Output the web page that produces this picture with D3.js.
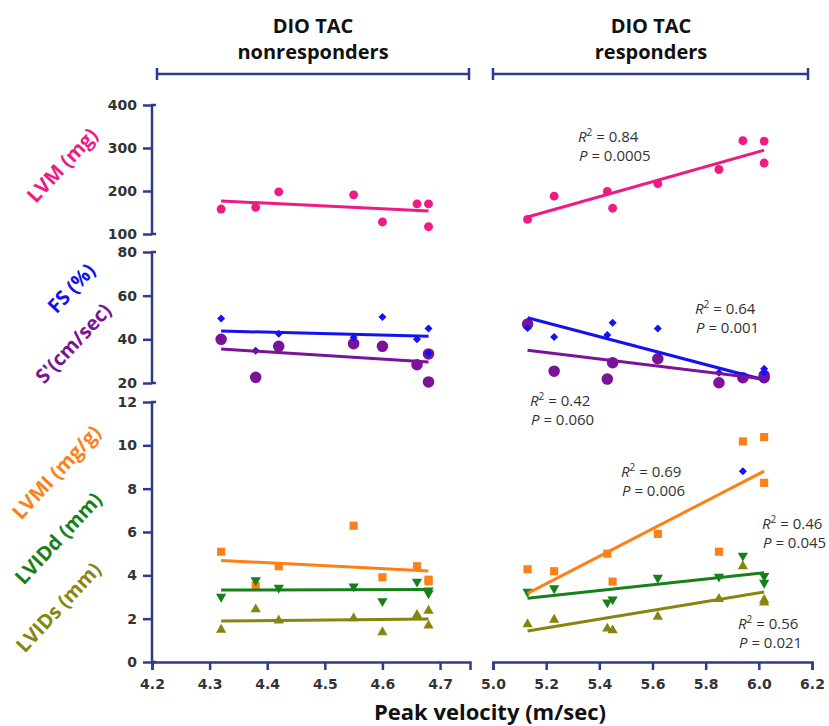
<!DOCTYPE html>
<html>
<head>
<meta charset="utf-8">
<script src="https://cdn.jsdelivr.net/npm/d3@7"></script>
<style>
  html, body { margin: 0; padding: 0; background: #fff; }
  svg { display: block; }
</style>
</head>
<body>
<svg id="chart" width="829" height="726"></svg>
<script>
// ---------------- DATA ----------------
const groupTitles = [["DIO TAC", "nonresponders"], ["DIO TAC", "responders"]];
const xTicksLeft = [4.2, 4.3, 4.4, 4.5, 4.6, 4.7];
const xTicksRight = [5.0, 5.2, 5.4, 5.6, 5.8, 6.0, 6.2];
const yTicksLVM = [100, 200, 300, 400];
const yTicksFS = [20, 40, 60, 80];
const yTicksBottom = [0, 2, 4, 6, 8, 10, 12];
const xTitle = "Peak velocity (m/sec)";

// peak velocity of each animal
const xLeft = [4.32, 4.38, 4.42, 4.55, 4.60, 4.66, 4.68, 4.68];
const xRight = [5.13, 5.23, 5.43, 5.45, 5.62, 5.85, 5.94, 6.02, 6.02];

// LVM (mg)
const lvmLeft = [158, 162, 198, 191, 128, 170, 170, 117];
const lvmRight = [134, 188, 199, 160, 217, 250, 317, 316, 265];
// FS (%)
const fsLeft = [49.5, 34.8, 42.6, 40.8, 50.2, 40.0, 45.0, 33.6];
const fsRight = [45.2, 41.1, 42.0, 47.6, 45.0, 24.7, null, 26.5, 24.7];
// S' (cm/sec)
const sLeft = [40.0, 22.6, 36.8, 38.0, 36.8, 28.4, 33.3, 20.5];
const sRight = [47.0, 25.4, 21.8, 29.3, 31.1, 20.1, 22.4, 22.4, 23.5];
// LVMI (mg/g)
const lvmiLeft = [5.09, 3.52, 4.42, 6.29, 3.91, 4.42, 3.80, 3.72];
const lvmiRight = [4.28, 4.19, 5.00, 3.71, 5.91, 5.09, 10.18, 10.38, 8.27];
// LVIDd (mm)
const lviddLeft = [3.01, 3.77, 3.43, 3.49, 2.81, 3.71, 3.17, 3.30];
const lviddRight = [3.24, 3.40, 2.75, 2.89, 3.89, 3.94, 4.91, 3.97, 3.66];
// LVIDs (mm)
const lvidsLeft = [1.49, 2.43, 1.92, 2.02, 1.37, 2.17, 2.37, 1.68];
const lvidsRight = [1.74, 1.95, 1.54, 1.46, 2.09, 2.91, 4.42, 2.86, 2.74];
// stray FS diamond drawn in the lower right panel (as in the original figure)
const strayFS = [{x: 5.94, y: 8.80}];

// linear fits: [x start, x end], [y start, y end]
const fitX = { left: [4.32, 4.68], right: [5.13, 6.02] };
const fitLVM = { left: [176.7, 153.5], right: [139.5, 295.0] };
const fitFS = { left: [43.8, 41.4], right: [49.9, 21.4] };
const fitS = { left: [35.6, 29.6], right: [35.0, 21.8] };
const fitLVMI = { left: [4.69, 4.20], right: [3.17, 8.81] };
const fitLVIDd = { left: [3.32, 3.35], right: [2.94, 4.12] };
const fitLVIDs = { left: [1.89, 1.98], right: [1.43, 3.23] };

// statistics text
const stats = [
  {r2: "0.84", p: "0.0005"},
  {r2: "0.64", p: "0.001"},
  {r2: "0.42", p: "0.060"},
  {r2: "0.69", p: "0.006"},
  {r2: "0.46", p: "0.045"},
  {r2: "0.56", p: "0.021"}
];

const yLabels = [
  {text: "LVM (mg)", color: "pink"},
  {text: "FS (%)", color: "blue"},
  {text: "S'(cm/sec)", color: "purple"},
  {text: "LVMI (mg/g)", color: "orange"},
  {text: "LVIDd (mm)", color: "green"},
  {text: "LVIDs (mm)", color: "olive"}
];

// ---------------- STYLE / LAYOUT ----------------
const C = {
  pink: "#ee1a85", blue: "#1212f2", purple: "#7a1397",
  orange: "#fd7f17", green: "#17801a", olive: "#86860f",
  axis: "#2f3b88", text: "#333333"
};
const tickFont = "'DejaVu Sans', sans-serif";
const labelFont = "'Open Sans', 'DejaVu Sans', sans-serif";

const svg = d3.select("#chart");

const xL = d3.scaleLinear().domain([4.2, 4.752]).range([152, 470]);
const xR = d3.scaleLinear().domain([5.0, 6.2]).range([493, 812]);
const yLVM = d3.scaleLinear().domain([100, 400]).range([234, 105]);
const yFS = d3.scaleLinear().domain([20, 80]).range([383, 252]);
const yBot = d3.scaleLinear().domain([0, 12]).range([662, 402]);

// ---------------- HEADERS ----------------
const headerCenters = [313, 651];
const bracketEnds = [[157, 469], [493, 808]];
groupTitles.forEach((t, i) => {
  const g = svg.append("g");
  g.append("text").attr("x", headerCenters[i]).attr("y", 33)
    .attr("text-anchor", "middle").attr("font-family", labelFont)
    .attr("font-weight", 700).attr("font-size", 20).attr("fill", "#111").text(t[0]);
  g.append("text").attr("x", headerCenters[i]).attr("y", 59)
    .attr("text-anchor", "middle").attr("font-family", labelFont)
    .attr("font-weight", 700).attr("font-size", 20).attr("fill", "#111").text(t[1]);
  const [a, b] = bracketEnds[i];
  g.append("line").attr("x1", a).attr("x2", b).attr("y1", 74).attr("y2", 74)
    .attr("stroke", C.axis).attr("stroke-width", 2.5);
  [a, b].forEach(x => g.append("line").attr("x1", x).attr("x2", x)
    .attr("y1", 68).attr("y2", 80).attr("stroke", C.axis).attr("stroke-width", 2.5));
});

// ---------------- Y AXES ----------------
function yAxis(scale, ticks) {
  const g = svg.append("g").attr("transform", "translate(152,0)");
  g.call(d3.axisLeft(scale).tickValues(ticks).tickSize(9).tickPadding(6).tickSizeOuter(0));
  g.select(".domain").remove();
  g.selectAll(".tick line").attr("stroke", C.axis).attr("stroke-width", 2.5);
  g.selectAll(".tick text").attr("font-family", tickFont).attr("font-weight", "bold")
    .attr("font-size", 14).attr("fill", C.text);
  const [r0, r1] = scale.range();
  g.append("line").attr("x1", 0).attr("x2", 0).attr("y1", r0).attr("y2", r1)
    .attr("stroke", C.axis).attr("stroke-width", 2.5);
  [r0, r1].forEach(y => g.append("line").attr("x1", -1).attr("x2", 4)
    .attr("y1", y).attr("y2", y).attr("stroke", C.axis).attr("stroke-width", 2.5));
}
yAxis(yLVM, yTicksLVM);
yAxis(yFS, yTicksFS);
yAxis(yBot, yTicksBottom);

// ---------------- X AXES ----------------
function xAxis(scale, ticks) {
  const g = svg.append("g").attr("transform", "translate(0,662)");
  g.call(d3.axisBottom(scale).tickValues(ticks).tickSize(8).tickPadding(9)
    .tickSizeOuter(8).tickFormat(d3.format(".1f")));
  g.select(".domain").attr("stroke", C.axis).attr("stroke-width", 2.5);
  g.selectAll(".tick line").attr("stroke", C.axis).attr("stroke-width", 2.5);
  g.selectAll(".tick text").attr("font-family", tickFont).attr("font-weight", "bold")
    .attr("font-size", 14).attr("fill", C.text);
}
xAxis(xL, xTicksLeft);
xAxis(xR, xTicksRight);

svg.append("text").attr("x", 490).attr("y", 720).attr("text-anchor", "middle")
  .attr("font-family", labelFont).attr("font-weight", 700).attr("font-size", 22)
  .attr("fill", "#111").text(xTitle);

// ---------------- Y LABELS ----------------
const yLabelPos = [[62, 165], [71, 288], [73, 343], [56, 472], [58, 538], [58, 607]];
yLabels.forEach((l, i) => {
  const [x, y] = yLabelPos[i];
  svg.append("text").attr("transform", `translate(${x},${y}) rotate(-47)`)
    .attr("text-anchor", "middle").attr("dominant-baseline", "central")
    .attr("font-family", labelFont).attr("font-weight", 700).attr("font-size", 20)
    .attr("fill", C[l.color]).text(l.text);
});

// ---------------- MARKS ----------------
const sym = {
  circle: d3.symbol().type(d3.symbolCircle).size(62),
  bigCircle: d3.symbol().type(d3.symbolCircle).size(105),
  diamond: d3.symbol().type(d3.symbolSquare).size(32),
  square: d3.symbol().type(d3.symbolSquare).size(66),
  tri: d3.symbol().type(d3.symbolTriangle).size(46)
};

function points(xs, ys, xs_, ys_, color, shape) {
  const g = svg.append("g");
  const data = xs.map((x, i) => ({x, y: ys[i]})).filter(d => d.y != null);
  const path = shape === "triDown" || shape === "triUp" ? sym.tri() : sym[shape]();
  const r = shape === "triDown" ? 180 : shape === "diamond" ? 45 : 0;
  g.selectAll("path").data(data).join("path")
    .attr("d", path)
    .attr("transform", d => `translate(${xs_(d.x)},${ys_(d.y)}) rotate(${r})`)
    .attr("fill", color);
}
function fit(xscale, yscale, fx, fy, color) {
  svg.append("path")
    .datum(fx.map((x, i) => [x, fy[i]]))
    .attr("d", d3.line().x(d => xscale(d[0])).y(d => yscale(d[1])))
    .attr("stroke", color).attr("stroke-width", 3).attr("fill", "none");
}

// top panel
points(xLeft, lvmLeft, xL, yLVM, C.pink, "circle");
points(xRight, lvmRight, xR, yLVM, C.pink, "circle");
fit(xL, yLVM, fitX.left, fitLVM.left, C.pink);
fit(xR, yLVM, fitX.right, fitLVM.right, C.pink);

// middle panel
points(xLeft, sLeft, xL, yFS, C.purple, "bigCircle");
points(xRight, sRight, xR, yFS, C.purple, "bigCircle");
points(xLeft, fsLeft, xL, yFS, C.blue, "diamond");
points(xRight, fsRight, xR, yFS, C.blue, "diamond");
fit(xL, yFS, fitX.left, fitFS.left, C.blue);
fit(xR, yFS, fitX.right, fitFS.right, C.blue);
fit(xL, yFS, fitX.left, fitS.left, C.purple);
fit(xR, yFS, fitX.right, fitS.right, C.purple);

// bottom panel
points(xLeft, lvmiLeft, xL, yBot, C.orange, "square");
points(xRight, lvmiRight, xR, yBot, C.orange, "square");
points(xLeft, lviddLeft, xL, yBot, C.green, "triDown");
points(xRight, lviddRight, xR, yBot, C.green, "triDown");
points(xLeft, lvidsLeft, xL, yBot, C.olive, "triUp");
points(xRight, lvidsRight, xR, yBot, C.olive, "triUp");
points(strayFS.map(d => d.x), strayFS.map(d => d.y), xR, yBot, C.blue, "diamond");
fit(xL, yBot, fitX.left, fitLVMI.left, C.orange);
fit(xR, yBot, fitX.right, fitLVMI.right, C.orange);
fit(xL, yBot, fitX.left, fitLVIDd.left, C.green);
fit(xR, yBot, fitX.right, fitLVIDd.right, C.green);
fit(xL, yBot, fitX.left, fitLVIDs.left, C.olive);
fit(xR, yBot, fitX.right, fitLVIDs.right, C.olive);

// ---------------- STATS ANNOTATIONS ----------------
const statPos = [[578, 142], [695, 314], [530, 406], [621, 477], [762, 529], [738, 629]];
stats.forEach((s, i) => {
  const [x, y] = statPos[i];
  const g = svg.append("g").attr("font-family", labelFont).attr("font-size", 15)
    .attr("fill", C.text);
  const t1 = g.append("text").attr("x", x).attr("y", y);
  t1.append("tspan").attr("font-style", "italic").text("R");
  t1.append("tspan").attr("dy", -6).attr("font-size", 10).text("2");
  t1.append("tspan").attr("dy", 6).text(" = " + s.r2);
  const t2 = g.append("text").attr("x", x + 1).attr("y", y + 19);
  t2.append("tspan").attr("font-style", "italic").text("P");
  t2.append("tspan").text(" = " + s.p);
});
</script>
</body>
</html>
